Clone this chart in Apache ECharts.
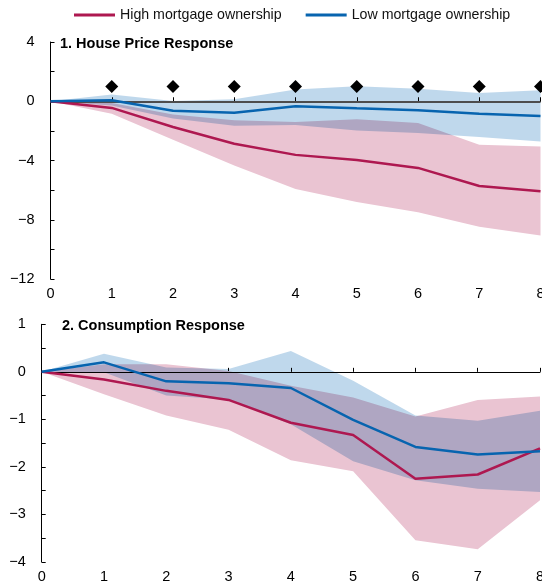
<!DOCTYPE html>
<html>
<head>
<meta charset="utf-8">
<script src="https://cdn.jsdelivr.net/npm/echarts@6/dist/echarts.min.js"></script>
<style>
html,body{margin:0;padding:0;background:#fff;}
#c{width:542px;height:586px;}
</style>
</head>
<body>
<div id="c"></div>
<script>
// ---- data ----
const periods = ['0','1','2','3','4','5','6','7','8'];
const seriesNames = ['High mortgage ownership','Low mortgage ownership'];
const panelTitles = ['1. House Price Response','2. Consumption Response'];

// Panel 1: house price response
const hpHigh      = [0, -0.45, -1.74, -2.87, -3.62, -3.96, -4.50, -5.72, -6.08];
const hpHighUpper = [0, -0.12, -0.90, -1.29, -1.40, -1.22, -1.47, -2.94, -3.05];
const hpHighLower = [0, -0.84, -2.60, -4.34, -5.92, -6.80, -7.50, -8.47, -9.06];
const hpLow       = [0,  0.07, -0.64, -0.77, -0.34, -0.48, -0.60, -0.85, -1.00];
const hpLowUpper  = [0,  0.45,  0.02,  0.14,  0.79,  1.02,  0.85,  0.56,  0.75];
const hpLowLower  = [0, -0.28, -1.17, -1.65, -1.60, -1.97, -2.15, -2.42, -2.71];
const hpSignificance = [null, 1, 1, 1, 1, 1, 1, 1, 1];

// Panel 2: consumption response
const cHigh      = [0, -0.16, -0.40, -0.59, -1.07, -1.33, -2.25, -2.16, -1.61];
const cHighUpper = [0,  0.16,  0.16,  0.02, -0.29, -0.54, -0.94, -0.59, -0.52];
const cHighLower = [0, -0.47, -0.92, -1.22, -1.86, -2.09, -3.54, -3.73, -2.70];
const cLow       = [0,  0.20, -0.20, -0.24, -0.34, -1.01, -1.58, -1.74, -1.67];
const cLowUpper  = [0,  0.38,  0.09,  0.06,  0.44, -0.19, -0.92, -1.03, -0.82];
const cLowLower  = [0, -0.01, -0.50, -0.58, -1.10, -1.88, -2.28, -2.46, -2.53];

// y-axis settings
const hpY = {min: -12, max: 4, tick: 2, label: 4};
const cY  = {min: -4, max: 1, tick: 0.5, label: 1};

// ---- style ----
const FONT = "'Liberation Sans',Arial,sans-serif";
const RED = '#AE1850', BLUE = '#0764AF';
const PINK = '#EAC4D2', LBLUE = '#BFD8EC';

function diff(a, b) { return a.map((v, i) => +(v - b[i]).toFixed(4)); }
function fmt(step) {
  return function (v) {
    const r = Math.round(v / step);
    if (Math.abs(v / step - r) > 1e-6) return '';
    return String(v).replace('-', '\u2212');
  };
}

function xAxis(gi) {
  return {
    type: 'category', gridIndex: gi, data: periods, boundaryGap: false,
    axisLine: {lineStyle: {color: '#000', width: 1}},
    axisTick: {inside: true, length: 4, lineStyle: {color: '#000'}},
    axisLabel: {color: '#000', fontSize: 14.5, fontFamily: FONT, margin: 7},
    splitLine: {show: false}
  };
}
function yAxis(gi, cfg) {
  return {
    type: 'value', gridIndex: gi, min: cfg.min, max: cfg.max, interval: cfg.tick,
    axisLine: {show: true, lineStyle: {color: '#000', width: 1}},
    axisTick: {show: true, inside: true, length: 4, lineStyle: {color: '#000'}},
    axisLabel: {color: '#000', fontSize: 14.5, fontFamily: FONT, margin: 16, formatter: fmt(cfg.label)},
    splitLine: {show: false}
  };
}

function band(gi, lower, upper, color, stackId, multiply) {
  const base = {
    type: 'line', xAxisIndex: gi, yAxisIndex: gi, stack: stackId, stackStrategy: 'all',
    symbol: 'none', silent: true, z: 1, lineStyle: {width: 0, opacity: 0}
  };
  const s = [
    Object.assign({}, base, {name: stackId + '_lo', data: lower}),
    Object.assign({}, base, {name: stackId + '_hi', data: diff(upper, lower), areaStyle: {color: color, opacity: 1}})
  ];
  if (multiply) s[1].blendMode = 'multiply';
  return s;
}
function zero(gi, color, width) {
  return {
    type: 'line', xAxisIndex: gi, yAxisIndex: gi, data: [], z: 3, silent: true,
    markLine: {silent: true, symbol: 'none', label: {show: false},
      lineStyle: {color: color, width: width, type: 'solid'}, data: [{yAxis: 0}], z: 3}
  };
}
function mainLine(gi, name, data, color) {
  return {
    type: 'line', name: name, xAxisIndex: gi, yAxisIndex: gi, data: data,
    symbol: 'none', z: 4, lineStyle: {color: color, width: 2.5}, itemStyle: {color: color}
  };
}

const chart = echarts.init(document.getElementById('c'), null, {renderer: 'canvas'});
chart.setOption({
  backgroundColor: '#fff',
  animation: false,
  textStyle: {fontFamily: FONT},
  legend: {
    data: seriesNames, left: 74, top: 8, icon: 'rect', itemWidth: 41, itemHeight: 3,
    itemGap: 24, textStyle: {fontSize: 14.2, color: '#111', fontFamily: FONT}, padding: 0
  },
  title: [
    {text: panelTitles[0], left: 60, top: 36, padding: 0,
     textStyle: {fontSize: 14.5, fontWeight: 'bold', color: '#000', fontFamily: FONT}},
    {text: panelTitles[1], left: 62, top: 318, padding: 0,
     textStyle: {fontSize: 14.5, fontWeight: 'bold', color: '#000', fontFamily: FONT}}
  ],
  grid: [
    {left: 50.5, right: 1.5, top: 42, height: 237, containLabel: false, outerBoundsMode: 'none'},
    {left: 41.7, right: 2, top: 324.3, height: 237.7, containLabel: false, outerBoundsMode: 'none'}
  ],
  xAxis: [xAxis(0), xAxis(1)],
  yAxis: [yAxis(0, hpY), yAxis(1, cY)],
  series: [].concat(
    band(0, hpHighLower, hpHighUpper, PINK, 'hpH', false),
    band(0, hpLowLower, hpLowUpper, LBLUE, 'hpL', true),
    [zero(0, '#4d4d4d', 2)],
    [mainLine(0, seriesNames[0], hpHigh, RED), mainLine(0, seriesNames[1], hpLow, BLUE)],
    [{type: 'scatter', xAxisIndex: 0, yAxisIndex: 0, data: hpSignificance, symbol: 'diamond',
      symbolSize: 13, itemStyle: {color: '#000', opacity: 1}, z: 5, silent: true}],
    band(1, cHighLower, cHighUpper, PINK, 'cH', false),
    band(1, cLowLower, cLowUpper, LBLUE, 'cL', true),
    [zero(1, '#000', 1)],
    [mainLine(1, seriesNames[0], cHigh, RED), mainLine(1, seriesNames[1], cLow, BLUE)]
  )
});
</script>
</body>
</html>
